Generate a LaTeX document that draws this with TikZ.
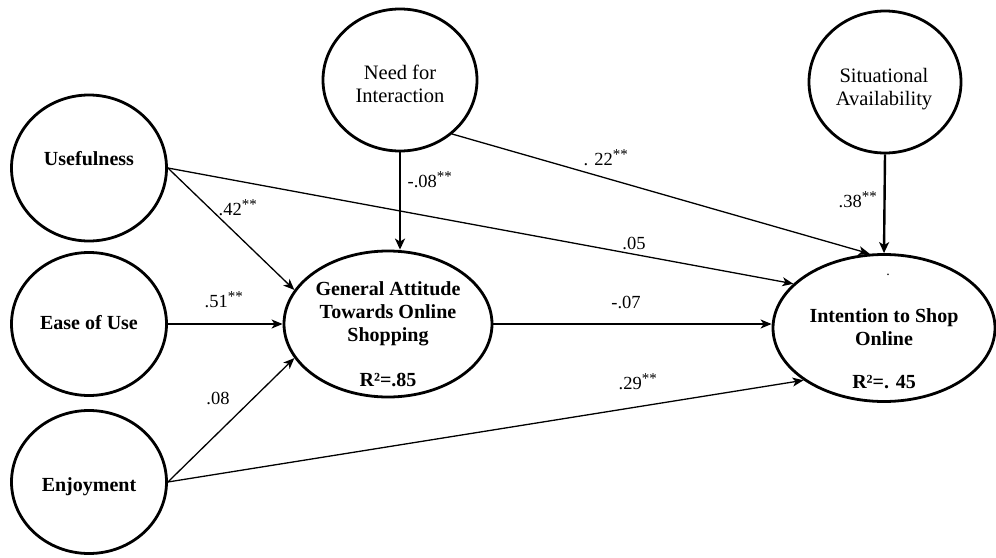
\documentclass[tikz,border=0pt]{standalone}
\usepackage{fontspec}
\setmainfont{Liberation Serif}
\usetikzlibrary{shapes.geometric,arrows.meta,calc}
\tikzset{
  construct/.style={ellipse,draw,line width=2.8pt,inner sep=0pt},
  bname/.style={font=\fontsize{20}{23}\selectfont\bfseries,align=center,inner sep=0pt},
  rname/.style={font=\fontsize{20.5}{23}\selectfont,align=center,inner sep=0pt},
  coef/.style={font=\fontsize{18.5}{20}\selectfont,inner sep=0pt},
  path/.style={line width=1.3pt,-{Stealth[length=11pt,width=9pt,inset=3pt]}},
  thickpath/.style={line width=2.4pt,-{Stealth[length=11pt,width=10pt,inset=3pt]}}
}
\newcommand{\stars}{\textsuperscript{\fontsize{15}{15}\selectfont **}}
\begin{document}
\begin{tikzpicture}[x=1pt,y=-1pt]
\useasboundingbox (0,0) rectangle (996,557);
% constructs
\node[construct,minimum width=155pt,minimum height=146pt] (U) at (89,168) {};
\node[construct,minimum width=155pt,minimum height=143pt] (E) at (89,324) {};
\node[construct,minimum width=155pt,minimum height=143pt] (J) at (89,482) {};
\node[construct,minimum width=154pt,minimum height=142pt] (N) at (400,80) {};
\node[construct,minimum width=152pt,minimum height=142pt] (S) at (885,82) {};
\node[construct,minimum width=208pt,minimum height=146pt] (GA) at (388,324) {};
\node[construct,minimum width=222pt,minimum height=147pt] (I) at (884,328) {};
% texts
\node[bname] (Ut) at (89,159) {Usefulness};
\node[bname] (Et) at (89,323) {Ease of Use};
\node[bname] (Jt) at (89,487) {Enjoyment};
\node[rname] (Nt) at (400,84) {Need for\\Interaction};
\node[rname] (St) at (884,89) {Situational\\Availability};
\node[bname] (GAt) at (388,314) {General Attitude\\Towards Online\\Shopping};
\node[bname] (GAr) at (388,380) {R²=.85};
\node[bname] (It) at (884,327) {Intention to Shop\\Online};
\node[bname] (Ir) at (884,382) {R²=. 45};
\node[rname,font=\fontsize{14}{14}\selectfont] (Idot) at (888,275) {.};
% paths
\draw[path] (U.east) -- (GA.160);
\draw[path] (E.east) -- (GA.west);
\draw[path] (J.east) -- (GA.200);
\draw[path] (U.east) -- (I.154);
\draw[path] (J.east) -- (I.213);
\draw[path] (GA.east) -- (GA.east -| I.west);
\draw[path] (N.-46) -- (I.101);
\draw[thickpath] (N.south) -- (N.south |- GA.north);
\draw[thickpath] (S.south) -- (I.north);
% coefficients
\node[coef] (c1) at (238,208) {.42\stars};
\node[coef] (c2) at (224,300) {.51\stars};
\node[coef] (c3) at (218,398) {.08};
\node[coef] (c4) at (430,180) {-.08\stars};
\node[coef] (c5) at (606,158) {. 22\stars};
\node[coef] (c6) at (634,243) {.05};
\node[coef] (c7) at (626,302) {-.07};
\node[coef] (c8) at (638,382) {.29\stars};
\node[coef] (c9) at (858,200) {.38\stars};
\end{tikzpicture}
\end{document}
